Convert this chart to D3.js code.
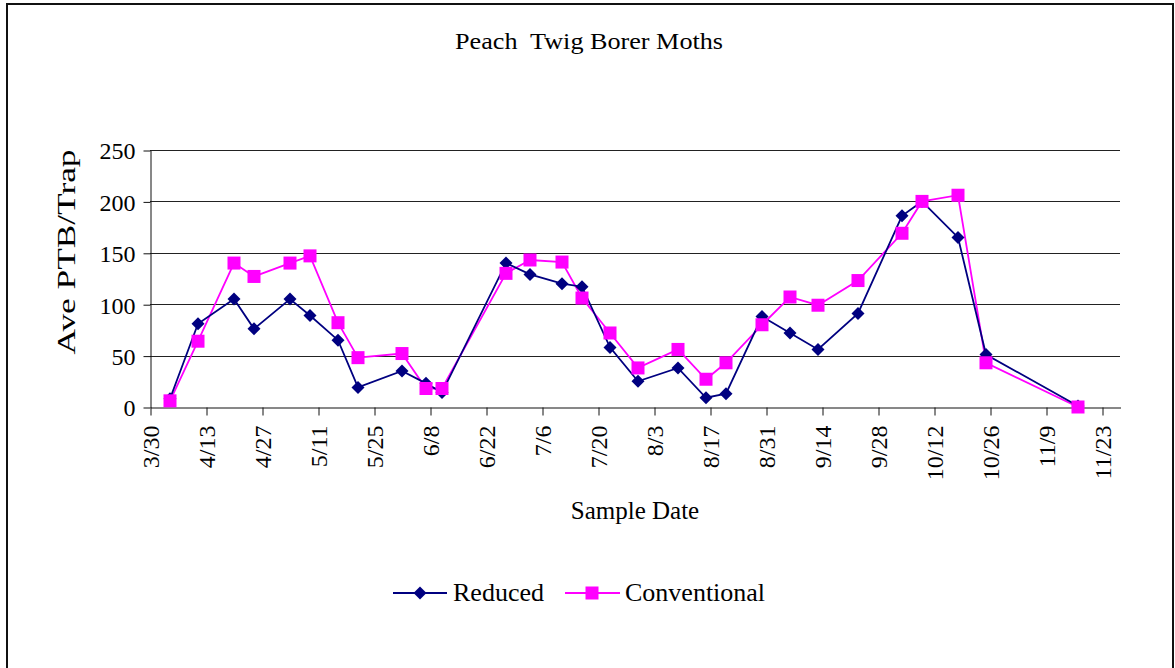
<!DOCTYPE html>
<html>
<head>
<meta charset="utf-8">
<script src="https://cdn.jsdelivr.net/npm/d3@7"></script>
<style>
  html, body { margin: 0; padding: 0; background: #fff; }
  svg { display: block; }
  text { font-family: "Liberation Serif", "Times New Roman", serif; fill: #000; }
</style>
</head>
<body>
<svg id="chart" width="1175" height="668"></svg>
<script>
// ---- Data ----
const sampleDates = ["4/4","4/11","4/20","4/25","5/4","5/9","5/16","5/21","6/1","6/7","6/11",
  "6/27","7/3","7/11","7/16","7/23","7/30","8/9","8/16","8/21","8/30","9/6","9/13","9/23",
  "10/4","10/9","10/18","10/25","11/17"];
const reduced = [8, 81, 105, 76, 105, 89, 65, 19, 35, 23, 14,
  140, 129, 120, 117, 58, 25, 38, 9, 13, 88, 72, 56, 91,
  186, 200, 165, 51, 1];
const conventional = [6, 64, 140, 127, 140, 147, 82, 48, 52, 18, 18,
  130, 143, 141, 106, 72, 38, 56, 27, 43, 80, 107, 99, 123,
  169, 200, 206, 43, 0];
const xTickLabels = ["3/30","4/13","4/27","5/11","5/25","6/8","6/22","7/6","7/20","8/3",
  "8/17","8/31","9/14","9/28","10/12","10/26","11/9","11/23"];
const yTickValues = [0, 50, 100, 150, 200, 250];
const seriesNames = ["Reduced", "Conventional"];

const YEAR = 2005;
const parseMD = s => { const [m, d] = s.split("/").map(Number); return new Date(YEAR, m - 1, d); };

const svg = d3.select("#chart");

// outer frame
svg.append("rect").attr("x", 7).attr("y", 4).attr("width", 1166).attr("height", 700)
  .attr("fill", "none").attr("stroke", "#111").attr("stroke-width", 2);

const x = d3.scaleTime()
  .domain([parseMD("3/30"), new Date(YEAR, 10, 27, 12)])
  .range([150, 1120]);
const y = d3.scaleLinear().domain([0, 250]).range([407, 150]);

// gridlines
svg.append("g").selectAll("line").data(yTickValues.filter(v => v > 0)).join("line")
  .attr("x1", 150).attr("x2", 1120)
  .attr("y1", d => Math.round(y(d)) + 0.5).attr("y2", d => Math.round(y(d)) + 0.5)
  .attr("stroke", "#222").attr("stroke-width", 1);

// y axis
const yAxis = svg.append("g").attr("transform", "translate(150.5,0.5)")
  .call(d3.axisLeft(y).tickValues(yTickValues).tickSize(7).tickPadding(8).tickSizeOuter(0));
yAxis.selectAll("text").style("font-size", "24px").attr("dy", "0.35em")
  .style("font-family", "'Liberation Serif', serif");
yAxis.selectAll("line, path").attr("stroke", "#111");

// x axis
const xAxis = svg.append("g").attr("transform", "translate(0.5,407.5)")
  .call(d3.axisBottom(x).tickValues(xTickLabels.map(parseMD)).tickSize(8).tickSizeOuter(0)
    .tickFormat(d => (d.getMonth() + 1) + "/" + d.getDate()));
xAxis.selectAll("line, path").attr("stroke", "#111");
xAxis.selectAll("text")
  .style("font-size", "24px").style("font-family", "'Liberation Serif', serif")
  .attr("text-anchor", "end")
  .attr("transform", "rotate(-90)")
  .attr("x", -18).attr("y", 0).attr("dy", "0.35em");

// lines
const pts = (vals) => sampleDates.map((d, i) => ({ date: parseMD(d), v: vals[i] }));
const line = d3.line().x(d => x(d.date)).y(d => y(d.v));
const redPts = pts(reduced), convPts = pts(conventional);

svg.append("path").datum(convPts).attr("d", line)
  .attr("fill", "none").attr("stroke", "#FF00FF").attr("stroke-width", 1.8);
svg.append("path").datum(redPts).attr("d", line)
  .attr("fill", "none").attr("stroke", "#000080").attr("stroke-width", 1.8);

const diamond = (cx, cy, r) => `M${cx},${cy - r}L${cx + r},${cy}L${cx},${cy + r}L${cx - r},${cy}Z`;

svg.append("g").selectAll("path").data(redPts).join("path")
  .attr("d", d => diamond(x(d.date), y(d.v), 6.5)).attr("fill", "#000080");
svg.append("g").selectAll("rect").data(convPts).join("rect")
  .attr("x", d => x(d.date) - 6.5).attr("y", d => y(d.v) - 6.5)
  .attr("width", 13).attr("height", 13).attr("fill", "#FF00FF");

// titles
svg.append("text").attr("x", 589).attr("y", 49).attr("text-anchor", "middle")
  .attr("textLength", 268).attr("lengthAdjust", "spacingAndGlyphs")
  .style("font-size", "24px").text("Peach  Twig Borer Moths").attr("xml:space", "preserve");
svg.append("text").attr("x", 635).attr("y", 519).attr("text-anchor", "middle")
  .style("font-size", "25px").text("Sample Date");
svg.append("text").attr("transform", "translate(75,252) rotate(-90)").attr("text-anchor", "middle")
  .attr("textLength", 205).attr("lengthAdjust", "spacingAndGlyphs")
  .style("font-size", "25px").text("Ave PTB/Trap");

// legend
const lg = svg.append("g");
lg.append("line").attr("x1", 393).attr("x2", 447).attr("y1", 593).attr("y2", 593)
  .attr("stroke", "#000080").attr("stroke-width", 1.8);
lg.append("path").attr("d", diamond(420, 593, 6.5)).attr("fill", "#000080");
lg.append("text").attr("x", 453).attr("y", 601).style("font-size", "26px").text(seriesNames[0]);
lg.append("line").attr("x1", 565).attr("x2", 620).attr("y1", 593).attr("y2", 593)
  .attr("stroke", "#FF00FF").attr("stroke-width", 1.8);
lg.append("rect").attr("x", 592 - 6.5).attr("y", 593 - 6.5).attr("width", 13).attr("height", 13)
  .attr("fill", "#FF00FF");
lg.append("text").attr("x", 625).attr("y", 601).style("font-size", "26px").text(seriesNames[1]);
</script>
</body>
</html>
